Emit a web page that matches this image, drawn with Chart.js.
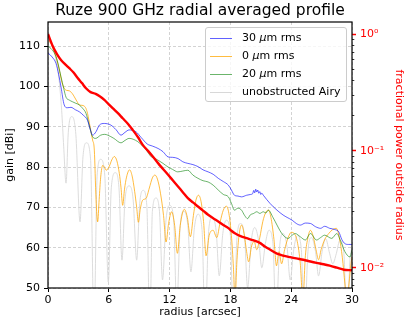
<!DOCTYPE html>
<html>
<head>
<meta charset="utf-8">
<title>Ruze 900 GHz radial averaged profile</title>
<script src="https://cdn.jsdelivr.net/npm/chart.js@4/dist/chart.umd.min.js"></script>
<style>
  body { margin: 0; background: #fff; }
  #wrap { position: relative; width: 407px; height: 326px; font-family: "DejaVu Sans", sans-serif; }
  #legend {
    position: absolute; left: 205px; top: 27px; width: 140px; height: 73px;
    border: 1px solid #cccccc; border-radius: 3px; background: rgba(255,255,255,0.8);
    font-size: 11px; color: #000;
  }
  .row { position: absolute; left: 0; height: 14px; width: 140px; }
  .row .ln { position: absolute; left: 4px; top: 7px; width: 22px; height: 0; border-top: 1px solid; }
  .row .tx { position: absolute; left: 36px; top: 0; line-height: 14px; white-space: nowrap; }
</style>
</head>
<body>
<div id="wrap">
  <canvas id="profileChart" width="407" height="326"></canvas>
  <div id="legend"></div>
</div>
<script>
// values

// 30 um rms surface
const blueR = [0, 0.4, 0.79, 1.05, 1.28, 1.6, 1.9, 2.27, 2.7, 3.09, 3.5, 3.9, 4.15, 4.41, 4.75,
  5.07, 5.56, 6.2, 6.7, 7.2, 7.6, 8.0, 8.7, 9.2, 9.8, 10.3, 10.86, 11.35, 11.85, 12.3,
  12.83, 13.3, 13.8, 14.3, 14.8, 15.3, 15.8, 16.3, 16.8, 17.3, 17.8, 18.1, 18.4, 18.75, 19.1,
  19.6, 20.0, 20.2, 20.3, 20.4, 20.5, 20.6, 20.7, 20.8, 20.9, 21.0, 21.1, 21.25, 21.9, 22.6,
  23.2, 23.6, 24.1, 24.5, 24.9, 25.4, 25.9, 26.4, 26.9, 27.3, 27.8, 28.3, 28.7, 29.0, 29.3,
  29.65, 30];
const blueGain = [108.3, 107.3, 105.7, 103.0, 99.9, 95.4, 94.7, 94.8, 94.2, 93.7, 92.8, 91.6, 89.5, 87.9, 88.8,
  90.4, 90.8, 90.4, 89.3, 87.9, 88.6, 89.2, 88.7, 87.3, 85.7, 85.2, 84.6, 83.8, 82.5, 82.4,
  82.1, 81.3, 80.9, 80.6, 80.1, 79.3, 78.8, 78.2, 77.2, 76.4, 75.5, 74.3, 73.0, 72.8, 72.6,
  73.0, 73.2, 73.4, 74.2, 73.6, 74.5, 73.8, 74.3, 73.5, 73.9, 73.2, 73.5, 73.0, 71.0, 69.3,
  68.1, 67.5, 66.8, 66.0, 65.6, 66.1, 66.0, 65.2, 64.8, 65.3, 64.8, 64.5, 63.9, 62.0, 61.0,
  60.8, 60.8];

// 0 um rms surface
const orangeR = [0, 0.3, 0.62, 0.9, 1.12, 1.4, 1.61, 1.85, 2.1, 2.4, 2.6, 2.85, 3.09, 3.35, 3.58,
  3.75, 3.9, 4.15, 4.4, 4.57, 4.74, 4.9, 5.05, 5.2, 5.4, 5.6, 5.75, 6.05, 6.3, 6.55,
  6.8, 7.04, 7.2, 7.37, 7.55, 7.75, 8.05, 8.3, 8.55, 8.75, 8.92, 9.1, 9.35, 9.67, 10.0,
  10.3, 10.55, 10.8, 11.1, 11.4, 11.65, 11.9, 12.2, 12.5, 12.77, 13.05, 13.45, 13.75, 14.05, 14.35,
  14.6, 14.85, 15.1, 15.35, 15.6, 15.9, 16.3, 16.65, 17.0, 17.3, 17.6, 17.85, 18.1, 18.3, 18.45,
  18.65, 18.85, 19.1, 19.35, 19.6, 19.8, 20.1, 20.35, 20.6, 20.9, 21.2, 21.5, 21.75, 22.0, 22.3,
  22.55, 22.8, 23.05, 23.35, 23.7, 24.0, 24.3, 24.6, 24.9, 25.15, 25.4, 25.65, 25.9, 26.15, 26.45,
  26.7, 26.95, 27.3, 27.7, 28.1, 28.45, 28.75, 29.05, 29.3, 29.5, 29.7, 29.9, 30];
const orangeGain = [111.3, 110.6, 108.6, 106.4, 104.0, 100.8, 99.5, 99.0, 98.9, 98.2, 97.4, 96.3, 95.4, 95.3, 95.1,
  94.5, 93.3, 90.0, 86.7, 84.2, 72.0, 66.4, 72.0, 77.5, 80.4, 79.8, 79.2, 80.2, 81.8, 82.6,
  81.5, 78.4, 75.0, 70.5, 74.5, 77.5, 79.3, 77.8, 74.0, 70.0, 66.3, 69.5, 71.8, 72.2, 74.8,
  77.3, 78.0, 77.0, 73.5, 68.0, 61.4, 66.0, 68.9, 65.5, 58.6, 65.5, 69.5, 67.5, 62.7, 68.0,
  71.8, 73.0, 71.5, 66.5, 58.0, 63.0, 64.3, 62.5, 66.5, 69.3, 70.3, 68.5, 63.0, 55.0, 47.0,
  57.0, 63.0, 65.6, 63.5, 59.0, 56.5, 60.5, 61.5, 59.5, 62.5, 66.5, 68.8, 69.3, 67.5, 62.0,
  55.5, 59.0, 56.0, 59.5, 62.5, 63.8, 63.5, 61.5, 56.0, 47.0, 58.0, 62.5, 64.3, 63.0, 59.5,
  57.0, 59.5, 62.0, 63.5, 64.5, 64.8, 62.5, 57.5, 51.0, 46.0, 51.0, 56.0, 57.7];

// 20 um rms surface
const greenR = [0, 0.4, 0.79, 1.05, 1.28, 1.55, 1.78, 2.1, 2.4, 2.75, 3.09, 3.4, 3.75, 4.05, 4.4,
  4.7, 5.2, 5.6, 5.9, 6.5, 7.2, 7.6, 8.0, 8.4, 8.85, 9.3, 9.7, 10.2, 10.5, 10.86,
  11.35, 11.85, 12.3, 12.8, 13.3, 13.8, 14.3, 14.8, 15.3, 15.8, 16.3, 16.8, 17.3, 17.8, 18.1,
  18.4, 18.75, 19.1, 19.4, 19.7, 19.95, 20.3, 20.6, 20.9, 21.25, 21.5, 21.75, 22.2, 22.6, 22.9,
  23.2, 23.7, 24.05, 24.4, 24.9, 25.4, 25.9, 26.5, 26.9, 27.3, 28.0, 28.5, 28.9, 29.3, 29.8, 30];
const greenGain = [110.0, 109.1, 107.4, 105.0, 102.4, 99.5, 97.3, 96.6, 96.2, 95.8, 95.4, 94.6, 93.3, 90.5, 87.5,
  87.1, 87.9, 88.1, 87.9, 87.1, 86.0, 86.6, 87.1, 86.9, 86.3, 85.3, 84.2, 82.5, 82.2, 81.7,
  80.9, 80.0, 79.4, 78.8, 79.0, 79.2, 78.0, 77.2, 76.6, 76.3, 75.5, 74.3, 73.2, 72.6, 71.0,
  69.3, 69.8, 69.3, 68.0, 67.2, 68.1, 68.5, 68.9, 68.5, 68.9, 68.6, 69.3, 67.5, 65.6, 64.2,
  63.1, 62.3, 63.0, 63.5, 62.7, 61.9, 63.5, 61.9, 62.5, 63.1, 62.3, 63.5, 61.5, 59.0, 57.7, 59.4];

// unobstructed Airy pattern
const airyR = [0, 0.4, 0.8, 1.1, 1.35, 1.55, 1.78, 2.0, 2.34, 2.75, 3.16, 3.45, 3.8, 4.2, 4.54,
  4.85, 5.2, 5.6, 5.95, 6.25, 6.65, 7.0, 7.3, 7.6, 8.0, 8.4, 8.75, 9.05, 9.4, 9.75, 10.05,
  10.3, 10.65, 11.0, 11.3, 11.65, 12.0, 12.4, 12.7, 13.05, 13.4, 13.8, 14.1, 14.45, 14.8, 15.2, 15.5,
  15.85, 16.2, 16.6, 16.9, 17.25, 17.6, 18.0, 18.3, 18.65, 19.0, 19.4, 19.7, 20.05, 20.4, 20.8, 21.1,
  21.45, 21.8, 22.2, 22.5, 22.85, 23.2, 23.6, 23.9, 24.25, 24.6, 25.0, 25.3, 25.65, 26.0, 26.4, 26.7,
  27.05, 27.4, 27.8, 28.1, 28.45, 28.8, 29.2, 29.5, 29.8, 30];
const airyGain = [111.5, 110.3, 106.5, 101.5, 94, 85, 76, 88.5, 92.5, 88, 66.4, 82.5, 86.0, 82, 40,
  78, 81.9, 78, 51.5, 75, 78.6, 75, 56.9, 72, 75.3, 72, 56.9, 71, 74.2, 70.5, 40,
  69, 72.3, 69, 52, 67, 70.5, 67, 45, 65.5, 69, 65.5, 54, 65, 68.3, 64.5, 40,
  64, 67.5, 64, 53, 63.5, 66.8, 63, 40, 62.5, 66, 62.5, 50, 61.5, 65, 61.5, 55,
  61, 64.3, 61, 42, 60, 63.5, 60, 52, 59.5, 63, 59.5, 40, 59, 62.5, 59, 53,
  59, 62.2, 58.5, 56, 58.5, 61.8, 58.5, 40, 57, 60];

// fractional power outside radius (right axis)
const redR = [0, 0.46, 0.9, 1.28, 1.7, 2.1, 2.5, 2.93, 3.35, 3.75, 4.2, 4.7, 5.1, 5.56, 6.0,
  6.38, 6.9, 7.37, 7.9, 8.36, 8.9, 9.35, 9.87, 10.36, 10.86, 11.35, 11.85, 12.35, 12.83, 13.3,
  13.8, 14.3, 14.8, 15.3, 15.8, 16.3, 16.8, 17.3, 17.8, 18.1, 18.4, 19.0, 19.7, 20.3, 20.9,
  21.4, 21.9, 22.6, 23.2, 23.9, 24.5, 25.2, 25.9, 26.5, 27.2, 27.8, 28.5, 29.2, 30];
const redFrac = [1.0, 0.79, 0.67, 0.60, 0.55, 0.51, 0.47, 0.42, 0.38, 0.343, 0.318, 0.307, 0.293, 0.273, 0.25,
  0.232, 0.21, 0.19, 0.17, 0.151, 0.13, 0.1125, 0.100, 0.089, 0.0785, 0.070, 0.0624, 0.0555, 0.0496, 0.0443,
  0.0394, 0.0362, 0.0334, 0.0308, 0.0284, 0.0265, 0.0249, 0.0232, 0.0218, 0.0207, 0.0198, 0.0186, 0.0178, 0.0171, 0.0163,
  0.0152, 0.0143, 0.0132, 0.0127, 0.0123, 0.0120, 0.0117, 0.0113, 0.0110, 0.0107, 0.0104, 0.0100, 0.0096, 0.0095];

// ticks
const radiusTicks = [0, 6, 12, 18, 24, 30];
const gainTicks = [50, 60, 70, 80, 90, 100, 110];
const fracMajor = [1, 0.1, 0.01];
const fracMajorLabels = ['10\u2070', '10\u207B\u00B9', '10\u207B\u00B2'];
const fracMinor = [0.007, 0.008, 0.009, 0.02, 0.03, 0.04, 0.05, 0.06, 0.07, 0.08, 0.09,
  0.2, 0.3, 0.4, 0.5, 0.6, 0.7, 0.8, 0.9];

// legend entries (same order as reference)
const seriesLabels = ['30 \u03BCm rms', '0 \u03BCm rms', '20 \u03BCm rms', 'unobstructed Airy'];
const seriesColors = ['rgba(0,0,255,0.62)', 'rgba(255,165,0,0.75)', 'rgba(0,128,0,0.58)', '#d8d8d8'];

const FONT = '"DejaVu Sans", sans-serif';

function toXY(xs, ys) {
    return xs.map((x, i) => ({ x: x, y: ys[i] }));
}

function isMajor(v) {
    return fracMajor.some(m => Math.abs(v - m) / m < 1e-6);
}

// black box round the plot, drawn over the lines like matplotlib spines
const framePlugin = {
    id: 'frame',
    afterDatasetsDraw(chart) {
        const a = chart.chartArea;
        const ctx = chart.ctx;
        ctx.save();
        ctx.strokeStyle = '#000';
        ctx.lineWidth = 1.2;
        ctx.strokeRect(a.left, a.top, a.right - a.left, a.bottom - a.top);
        ctx.restore();
    }
};

const lineStyle = { pointRadius: 0, borderWidth: 1, cubicInterpolationMode: 'monotone', fill: false };

const ctx = document.getElementById('profileChart').getContext('2d');
new Chart(ctx, {
    type: 'line',
    data: {
        datasets: [
            Object.assign({ label: 'fractional power', data: toXY(redR, redFrac), borderColor: '#ff0000', yAxisID: 'y2', order: 0 }, lineStyle, { borderWidth: 2.4 }),
            Object.assign({ label: seriesLabels[0], data: toXY(blueR, blueGain), borderColor: seriesColors[0], yAxisID: 'y', order: 1 }, lineStyle),
            Object.assign({ label: seriesLabels[2], data: toXY(greenR, greenGain), borderColor: seriesColors[2], yAxisID: 'y', order: 2 }, lineStyle),
            Object.assign({ label: seriesLabels[1], data: toXY(orangeR, orangeGain), borderColor: seriesColors[1], yAxisID: 'y', order: 3 }, lineStyle),
            Object.assign({ label: seriesLabels[3], data: toXY(airyR, airyGain), borderColor: seriesColors[3], yAxisID: 'y', order: 4 }, lineStyle, { borderWidth: 0.9 })
        ]
    },
    options: {
        responsive: false,
        animation: false,
        devicePixelRatio: 1,
        layout: { padding: 0 },
        scales: {
            x: {
                type: 'linear',
                min: 0,
                max: 30,
                afterBuildTicks: s => { s.ticks = radiusTicks.map(v => ({ value: v })); },
                afterFit: s => { s.height = 38; },
                grid: { color: '#c8c8c8', lineWidth: 0.8, tickLength: 4, tickColor: '#000', tickWidth: 1, tickBorderDash: [] },
                border: { display: false, dash: [3, 2] },
                ticks: { color: '#000', font: { family: FONT, size: 11 }, padding: 2, maxRotation: 0, autoSkip: false },
                title: { display: true, text: 'radius [arcsec]', color: '#000', font: { family: FONT, size: 11 }, padding: { top: 0, bottom: 7 } }
            },
            y: {
                type: 'linear',
                position: 'left',
                min: 50,
                max: 115.96,
                afterBuildTicks: s => { s.ticks = gainTicks.map(v => ({ value: v })); },
                afterFit: s => { s.width = 48; },
                grid: { color: '#c8c8c8', lineWidth: 0.8, tickLength: 4, tickColor: '#000', tickWidth: 1, tickBorderDash: [] },
                border: { display: false, dash: [3, 2] },
                ticks: { color: '#000', font: { family: FONT, size: 11 }, padding: 4, autoSkip: false },
                title: { display: true, text: 'gain [dBi]', color: '#000', font: { family: FONT, size: 11 }, padding: { top: 3.5, bottom: 0 } }
            },
            y2: {
                type: 'logarithmic',
                position: 'right',
                min: 0.0067,
                max: 1.267,
                afterBuildTicks: s => { s.ticks = fracMajor.concat(fracMinor).map(v => ({ value: v })); },
                afterFit: s => { s.width = 55; },
                grid: {
                    drawOnChartArea: false,
                    tickLength: 4,
                    tickColor: c => isMajor(c.tick.value) ? '#ff0000' : '#000',
                    tickWidth: c => isMajor(c.tick.value) ? 1.5 : 0.8,
                    tickBorderDash: c => isMajor(c.tick.value) ? [] : [2.3, 10]
                },
                border: { display: false },
                ticks: {
                    color: '#ff0000',
                    font: { family: FONT, size: 11 },
                    padding: 4,
                    autoSkip: false,
                    callback: v => {
                        const i = fracMajor.findIndex(m => Math.abs(v - m) / m < 1e-6);
                        return i >= 0 ? fracMajorLabels[i] : '';
                    }
                },
                title: { display: true, text: 'fractional power outside radius', color: '#ff0000', font: { family: FONT, size: 11 }, padding: { top: 1.5, bottom: 0 } }
            }
        },
        plugins: {
            legend: { display: false },
            tooltip: { enabled: false },
            title: {
                display: true,
                text: 'Ruze 900 GHz radial averaged profile',
                fullSize: false,
                color: '#000',
                font: { family: FONT, size: 15.5, weight: 'normal' },
                padding: { top: 2, bottom: 1.4 }
            }
        }
    },
    plugins: [framePlugin]
});

// legend box inside the plot, upper right
const legendBox = document.getElementById('legend');
seriesLabels.forEach((lab, i) => {
    const row = document.createElement('div');
    row.className = 'row';
    row.style.top = (2.5 + 18 * i) + 'px';
    row.innerHTML = `<span class="ln" style="border-color:${seriesColors[i]}"></span>` +
        `<span class="tx">${lab.replace('\u03BC', '<i>\u03BC</i>')}</span>`;
    legendBox.appendChild(row);
});
</script>
</body>
</html>
